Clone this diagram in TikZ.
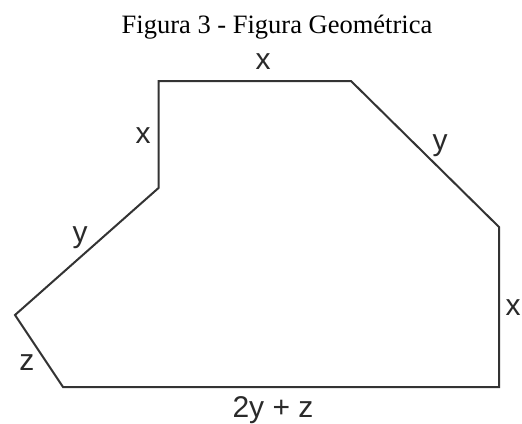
\documentclass[tikz,border=0pt]{standalone}
\usepackage{fontspec}
\setmainfont{Liberation Serif}
\newfontfamily\lblfont{Liberation Sans}
\definecolor{edgegray}{HTML}{333333}
\definecolor{lblgray}{HTML}{2A2A2A}
\begin{document}
\begin{tikzpicture}[x=1pt,y=-1pt,
  edge/.style={draw=edgegray,line width=2pt,line join=miter},
  lbl/.style={inner sep=0pt,text=lblgray,font=\lblfont\fontsize{30}{32}\selectfont},
  ttl/.style={inner sep=0pt,anchor=base,font=\fontsize{26.5}{30}\selectfont}]
\useasboundingbox (0,0) rectangle (522,423);
\fill[white] (0,0) rectangle (522,423);
\coordinate (A) at (158.5,81);
\coordinate (B) at (351,81);
\coordinate (C) at (499,227);
\coordinate (D) at (499,387);
\coordinate (E) at (63,387);
\coordinate (F) at (15,315);
\coordinate (G) at (158.5,188);
\draw[edge] (A) -- (B) -- (C) -- (D) -- (E) -- (F) -- (G) -- cycle;
\node[ttl] (title) at (277,33) {Figura 3 - Figura Geométrica};
\node[lbl] (lx1) at (263,62) {x};
\node[lbl] (lx2) at (143,136) {x};
\node[lbl] (ly1) at (440,146) {y};
\node[lbl] (ly2) at (80,238) {y};
\node[lbl] (lx3) at (513,308) {x};
\node[lbl] (lz) at (27,363) {z};
\node[lbl] (lb) at (273,410) {2y + z};
\end{tikzpicture}
\end{document}
